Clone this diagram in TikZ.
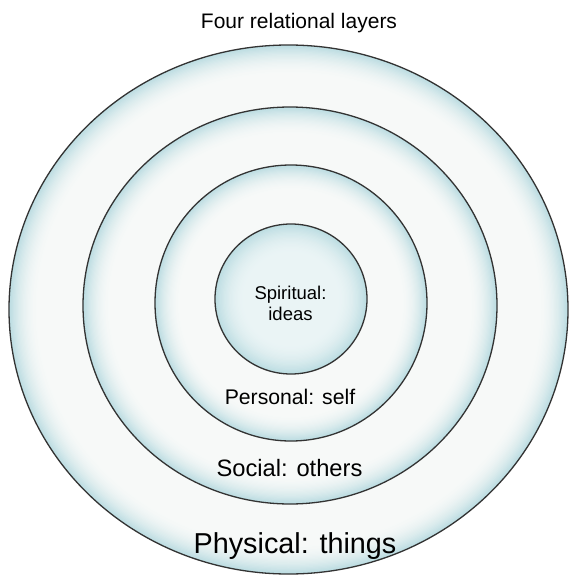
\documentclass[tikz,border=0pt]{standalone}
\usepackage{fontspec}
\setmainfont{Liberation Sans}
\usetikzlibrary{shapes.geometric}
\definecolor{bcA}{HTML}{F7F9F8}
\definecolor{bcC}{HTML}{BCDDE2}
\definecolor{icA}{HTML}{EAF4F5}
\definecolor{edgecol}{HTML}{333333}
\newcommand\mybubble[6]{%
  \foreach \k in {0,...,24}{%
    \pgfmathsetmacro\pp{100*(1-\k/24)^2}%
    \pgfmathsetmacro\rrx{#3-#5*\k/24}%
    \pgfmathsetmacro\rry{#4-#5*\k/24}%
    \fill[bcC!\pp!#6] (#1,#2) ellipse [x radius=\rrx, y radius=\rry];
  }}
\begin{document}
\begin{tikzpicture}[x=1pt,y=-1pt,
  ring/.style={ellipse, draw=edgecol, line width=1.3pt, inner sep=0pt, outer sep=0pt},
  lbl/.style={anchor=base, inner sep=0pt, text=black}]
\useasboundingbox (0,0) rectangle (570,576);
\fill[white] (0,0) rectangle (570,576);
\mybubble{288.5}{309.5}{279.5}{264.5}{30}{bcA}
\node[ring, minimum width=559pt, minimum height=529pt] (physical) at (288.5,309.5) {};
\mybubble{290}{305.5}{207}{198.5}{28}{bcA}
\node[ring, minimum width=414pt, minimum height=397pt] (social) at (290,305.5) {};
\mybubble{291}{303}{136}{138}{26}{bcA}
\node[ring, minimum width=272pt, minimum height=276pt] (personal) at (291,303) {};
\mybubble{291}{299}{76}{75}{30}{icA}
\node[ring, minimum width=152pt, minimum height=150pt] (spiritual) at (291,299) {};
\node[lbl, font=\fontsize{21}{25}\selectfont] (title) at (299,28) {Four relational layers};
\node[anchor=center, inner sep=0pt, align=center, font=\fontsize{18.5}{21}\selectfont] (spirituallbl) at (290.5,303) {Spiritual:\\ideas};
\node[lbl, font=\fontsize{21.2}{25}\selectfont] (personallbl) at (290,404) {Personal: self};
\node[lbl, font=\fontsize{23.7}{28}\selectfont] (sociallbl) at (289.5,476) {Social: others};
\node[lbl, font=\fontsize{28.8}{34}\selectfont] (physicallbl) at (295,553.5) {Physical: things};
\end{tikzpicture}
\end{document}
